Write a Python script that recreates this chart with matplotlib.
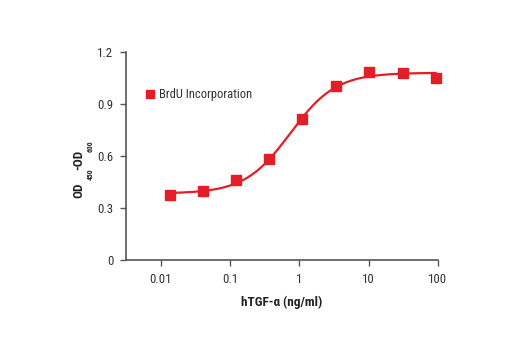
import numpy as np
import matplotlib
matplotlib.use("Agg")
import matplotlib.pyplot as plt
from matplotlib.lines import Line2D

# Data
conc = [0.0137, 0.041, 0.123, 0.37, 1.11, 3.33, 10.3, 31.0, 93.0]
od = [0.375, 0.398, 0.46, 0.583, 0.812, 1.006, 1.086, 1.08, 1.048]
od_err = [0.01, 0.01, 0.03, 0.01, 0.01, 0.01, 0.012, 0.012, 0.01]
xticks = [0.01, 0.1, 1, 10, 100]
xtick_labels = ["0.01", "0.1", "1", "10", "100"]
yticks = [0, 0.3, 0.6, 0.9, 1.2]
ytick_labels = ["0", "0.3", "0.6", "0.9", "1.2"]
series_name = "BrdU Incorporation"
xlabel = "hTGF-\u03b1 (ng/ml)"
ylabel_parts = ["OD", "450", "-OD", "600"]

fam = "Roboto Condensed"
plt.rcParams['font.family'] = [fam, 'DejaVu Sans']

red = "#e31e26"
grey = "#555555"

# 4-parameter logistic fit to the data (grid search, linear solve for bottom/top)
x = np.log10(np.array(conc))
y = np.array(od)
best = None
for lec in np.linspace(-1.5, 1.0, 251):
    for h in np.linspace(0.5, 3.0, 126):
        s = 1.0 / (1.0 + 10 ** ((lec - x) * h))
        A = np.vstack([np.ones_like(s), s]).T
        coef, *_ = np.linalg.lstsq(A, y, rcond=None)
        r = np.sum((A @ coef - y) ** 2)
        if best is None or r < best[0]:
            best = (r, lec, h, coef)
_, lec, h, coef = best
xf = np.linspace(x.min(), x.max(), 300)
yf = coef[0] + coef[1] / (1.0 + 10 ** ((lec - xf) * h))

W, H = 520, 350
fig = plt.figure(figsize=(W / 100, H / 100), dpi=100)
ax = fig.add_axes([0.242, 0.257, 0.600, 0.594])
ax.plot(10 ** xf, yf, color=red, lw=1.6, zorder=2, clip_on=False)
ax.errorbar(conc, od, yerr=od_err, fmt='s', color=red, ms=6.5, elinewidth=1.4,
            capsize=0, zorder=3, clip_on=False)
ax.set_xscale('log')
ax.set_xlim(10 ** -2.505, 100)
ax.set_ylim(0, 1.2)
ax.set_xticks(xticks)
ax.set_xticklabels(xtick_labels)
ax.xaxis.set_minor_locator(matplotlib.ticker.NullLocator())
ax.set_yticks(yticks)
ax.set_yticklabels(ytick_labels)
for s in ['top', 'right']:
    ax.spines[s].set_visible(False)
for s in ['left', 'bottom']:
    ax.spines[s].set_color(grey)
    ax.spines[s].set_linewidth(1.2)
ax.tick_params(direction='out', length=4, width=1, color=grey, labelsize=9.3,
               labelcolor='#333333', pad=5)
ax.set_xlabel(xlabel, fontsize=9.5, fontweight='bold', color='#222222', labelpad=7)

# y label built from pieces: main text with small low subscripts
pos = [(79, 190, 9.5), (90, 174, 5.5), (79, 160, 9.5), (90, 146, 5.5)]
for txt, (px, py, fs) in zip(ylabel_parts, pos):
    fig.text(px / W, 1 - py / H, txt, rotation=90, ha='center', va='center',
             fontsize=fs, fontweight='bold', color='#222222')

handle = Line2D([], [], marker='s', ls='none', color=red, ms=6)
leg = ax.legend([handle], [series_name], loc='upper left', bbox_to_anchor=(0.045, 0.85),
                frameon=False, fontsize=9, handlelength=0.8, handletextpad=0.3,
                borderaxespad=0)
for t in leg.get_texts():
    t.set_color('#333333')
fig.savefig("out.png", dpi=100)
